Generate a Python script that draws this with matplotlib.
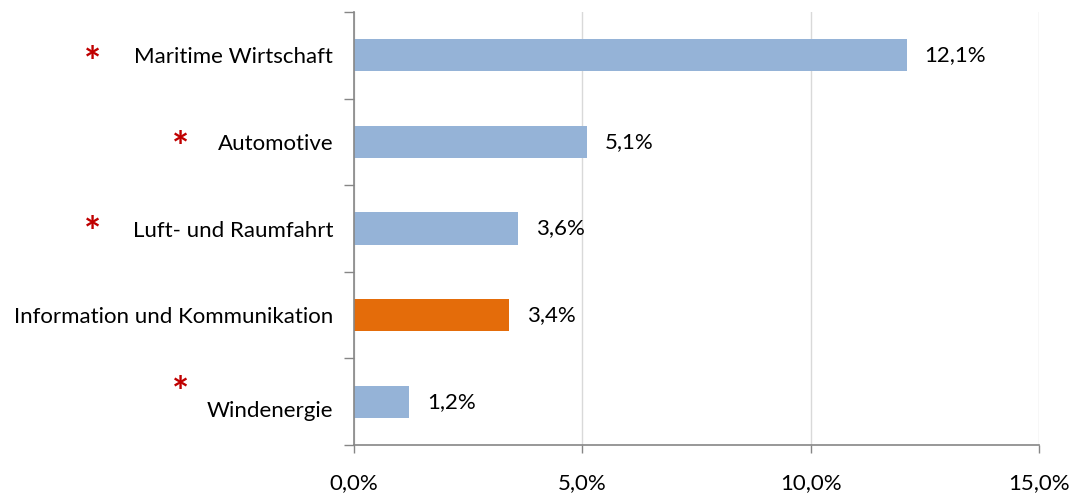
import matplotlib
matplotlib.use("Agg")
import matplotlib.pyplot as plt
import matplotlib.transforms as mtransforms
from matplotlib.ticker import FixedLocator, FuncFormatter

categories = ["Maritime Wirtschaft", "Automotive", "Luft- und Raumfahrt",
              "Information und Kommunikation", "Windenergie"]
values = [12.1, 5.1, 3.6, 3.4, 1.2]
highlight = [False, False, False, True, False]
starred = [True, True, True, False, True]
x_ticks = [0, 5, 10, 15]

plt.rcParams['font.family'] = ['Lato', 'DejaVu Sans']

fig = plt.figure(figsize=(10.8, 4.96), dpi=100)
ax = fig.add_axes([354/1080, 1-445/496, (1039-354)/1080, (445-12)/496])

blue = "#95B3D7"
orange = "#E46C0A"
axis_col = "#868686"
colors = [orange if h else blue for h in highlight]
ypos = list(range(len(categories)))
FS = 16

ax.set_axisbelow(True)
ax.barh(ypos, values, height=0.37, color=colors, zorder=2)
ax.set_xlim(0, 15)
ax.set_ylim(len(categories) - 0.5, -0.5)

ax.xaxis.set_major_locator(FixedLocator(x_ticks))
ax.xaxis.set_major_formatter(FuncFormatter(lambda v, p: f"{v:.1f}%".replace(".", ",")))
ax.grid(axis='x', color="#D9D9D9", linewidth=1, zorder=0)

ax.set_yticks(ypos)
ax.set_yticklabels(categories)
ax.yaxis.set_minor_locator(FixedLocator([i - 0.5 for i in range(len(categories) + 1)]))
ax.tick_params(axis='y', which='major', length=0, pad=15, labelsize=FS, labelcolor="#000000")
ax.tick_params(axis='y', which='minor', length=7, width=1, color=axis_col, direction='out')
ax.tick_params(axis='x', which='major', length=6, width=1, color=axis_col, pad=14,
               labelsize=FS, labelcolor="#000000")

# Windenergie label sits a little lower in the reference
lbl = ax.get_yticklabels()[-1]
lbl.set_transform(lbl.get_transform() + mtransforms.Affine2D().translate(0, -7))

for s in ['top', 'right']:
    ax.spines[s].set_visible(False)
for s in ['left', 'bottom']:
    ax.spines[s].set_color(axis_col)
    ax.spines[s].set_linewidth(1.2)

for y, v in zip(ypos, values):
    ax.annotate(f"{v:.1f}%".replace(".", ","), xy=(v, y), xytext=(13, 0),
                textcoords='offset points', va='center', ha='left', fontsize=FS)

# asterisks: x in figure pixels, y relative to category
star_x = [92, 181, 92, None, 181]
star_dy = [-9, -8, -6, 0, 7]
for y, st, sx, dy in zip(ypos, starred, star_x, star_dy):
    if not st:
        continue
    trans = mtransforms.blended_transform_factory(fig.transFigure, ax.transData)
    trans = mtransforms.offset_copy(trans, fig=fig, x=0, y=dy, units='dots')
    ax.text(sx/1080, y, "*", transform=trans, ha='center', va='center',
            fontsize=29, fontweight='bold', color="#C00000", clip_on=False)

fig.savefig("out.png", dpi=100)
